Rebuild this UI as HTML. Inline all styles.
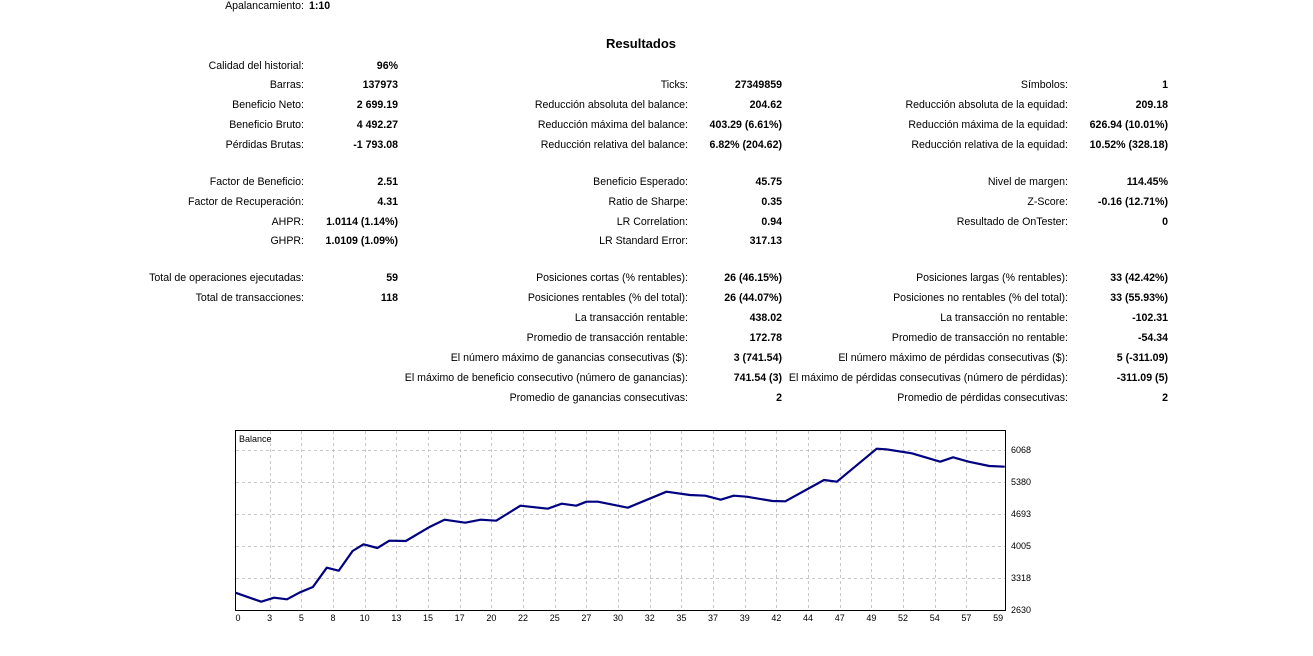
<!DOCTYPE html>
<html><head><meta charset="utf-8"><style>
body{margin:0;width:1313px;height:656px;background:#fff;position:relative;overflow:hidden;font-family:"Liberation Sans","DejaVu Sans",sans-serif;font-size:10.6px;color:#000}
.t{position:absolute;line-height:14px;white-space:nowrap;text-align:right;width:500px}
.b{font-weight:bold}
</style></head><body>
<div class="t b" style="left:0;width:1282px;text-align:center;top:36px;font-size:13px;line-height:16px">Resultados</div>
<svg width="1313" height="656" style="position:absolute;left:0;top:0" font-family="Liberation Sans, sans-serif" font-size="9">
<rect x="235.5" y="430.5" width="770" height="180" fill="#fff" stroke="#000"/>
<g stroke="#c8c8c8" stroke-dasharray="3,3">
<line x1="236" x2="1005" y1="450.5" y2="450.5"/><line x1="236" x2="1005" y1="482.5" y2="482.5"/><line x1="236" x2="1005" y1="514.5" y2="514.5"/><line x1="236" x2="1005" y1="546.5" y2="546.5"/><line x1="236" x2="1005" y1="578.5" y2="578.5"/>
</g>
<g id="vg" stroke="#c8c8c8" stroke-dasharray="3,3"></g>
<polyline fill="none" stroke="#000080" stroke-width="2.2" stroke-linejoin="round" points="235.4,592.7 261.2,601.7 274.1,597.7 287,599.3 300,592.3 312.9,587 326.8,567.7 338.7,570.7 352.6,551 363.5,544.3 377.4,548 389.3,540.7 405.8,541 429,527.3 444.5,519.7 465.2,522.7 480.7,519.7 496.2,520.7 520.4,505.7 547.8,508.7 561.7,503.7 576.2,505.7 586.5,501.7 597.9,501.7 627.8,507.7 666.5,491.7 689.8,495 705.3,495.7 720.7,499.7 733.7,495.7 746.6,496.7 772.4,501 785.3,501.3 824,480 836.9,481.7 876.7,448.7 886,449.3 911.8,453.3 940.2,461.7 953.1,457.3 968.6,461.7 989.3,466 1004.7,466.7"/>
<text x="239" y="442">Balance</text>
<g text-anchor="start">
<text x="1011" y="453">6068</text><text x="1011" y="485">5380</text><text x="1011" y="517">4693</text><text x="1011" y="549">4005</text><text x="1011" y="581">3318</text><text x="1011" y="613">2630</text>
</g>
<g id="xl" text-anchor="middle"></g>
</svg>
<script>
function add(r,y,l,b){var d=document.createElement('div');d.className='t'+(b?' b':'');d.style.left=(r-500)+'px';d.style.top=(y-6)+'px';d.textContent=l;document.body.appendChild(d);}
function addL(x,y,t){var d=document.createElement('div');d.className='t b';d.style.textAlign='left';d.style.left=x+'px';d.style.top=(y-6)+'px';d.textContent=t;document.body.appendChild(d);}
add(304,5,'Apalancamiento:');addL(309,5,'1:10');
var c1=[[65,'Calidad del historial:','96%'],[84,'Barras:','137973'],[104,'Beneficio Neto:','2 699.19'],[124,'Beneficio Bruto:','4 492.27'],[144,'Pérdidas Brutas:','-1 793.08'],[181,'Factor de Beneficio:','2.51'],[201,'Factor de Recuperación:','4.31'],[221,'AHPR:','1.0114 (1.14%)'],[240,'GHPR:','1.0109 (1.09%)'],[277,'Total de operaciones ejecutadas:','59'],[297,'Total de transacciones:','118']];
var c2=[[84,'Ticks:','27349859'],[104,'Reducción absoluta del balance:','204.62'],[124,'Reducción máxima del balance:','403.29 (6.61%)'],[144,'Reducción relativa del balance:','6.82% (204.62)'],[181,'Beneficio Esperado:','45.75'],[201,'Ratio de Sharpe:','0.35'],[221,'LR Correlation:','0.94'],[240,'LR Standard Error:','317.13'],[277,'Posiciones cortas (% rentables):','26 (46.15%)'],[297,'Posiciones rentables (% del total):','26 (44.07%)'],[317,'La transacción rentable:','438.02'],[337,'Promedio de transacción rentable:','172.78'],[357,'El número máximo de ganancias consecutivas ($):','3 (741.54)'],[377,'El máximo de beneficio consecutivo (número de ganancias):','741.54 (3)'],[397,'Promedio de ganancias consecutivas:','2']];
var c3=[[84,'Símbolos:','1'],[104,'Reducción absoluta de la equidad:','209.18'],[124,'Reducción máxima de la equidad:','626.94 (10.01%)'],[144,'Reducción relativa de la equidad:','10.52% (328.18)'],[181,'Nivel de margen:','114.45%'],[201,'Z-Score:','-0.16 (12.71%)'],[221,'Resultado de OnTester:','0'],[277,'Posiciones largas (% rentables):','33 (42.42%)'],[297,'Posiciones no rentables (% del total):','33 (55.93%)'],[317,'La transacción no rentable:','-102.31'],[337,'Promedio de transacción no rentable:','-54.34'],[357,'El número máximo de pérdidas consecutivas ($):','5 (-311.09)'],[377,'El máximo de pérdidas consecutivas (número de pérdidas):','-311.09 (5)'],[397,'Promedio de pérdidas consecutivas:','2']];
[[c1,304,398],[c2,688,782],[c3,1068,1168]].forEach(function(g){g[0].forEach(function(r){add(g[1],r[0],r[1]);add(g[2],r[0],r[2],1);});});
var labs=[0,3,5,8,10,13,15,17,20,22,25,27,30,32,35,37,39,42,44,47,49,52,54,57,59];
var ns='http://www.w3.org/2000/svg',vg=document.getElementById('vg'),xl=document.getElementById('xl');
labs.forEach(function(v,i){var x=238+i*31.67;var ln=document.createElementNS(ns,'line');ln.setAttribute('x1',Math.round(x)+.5);ln.setAttribute('x2',Math.round(x)+.5);ln.setAttribute('y1',431);ln.setAttribute('y2',610);if(i>0&&i<24)vg.appendChild(ln);var t=document.createElementNS(ns,'text');t.setAttribute('x',x);t.setAttribute('y',621);t.textContent=v;xl.appendChild(t);});
</script>
</body></html>
